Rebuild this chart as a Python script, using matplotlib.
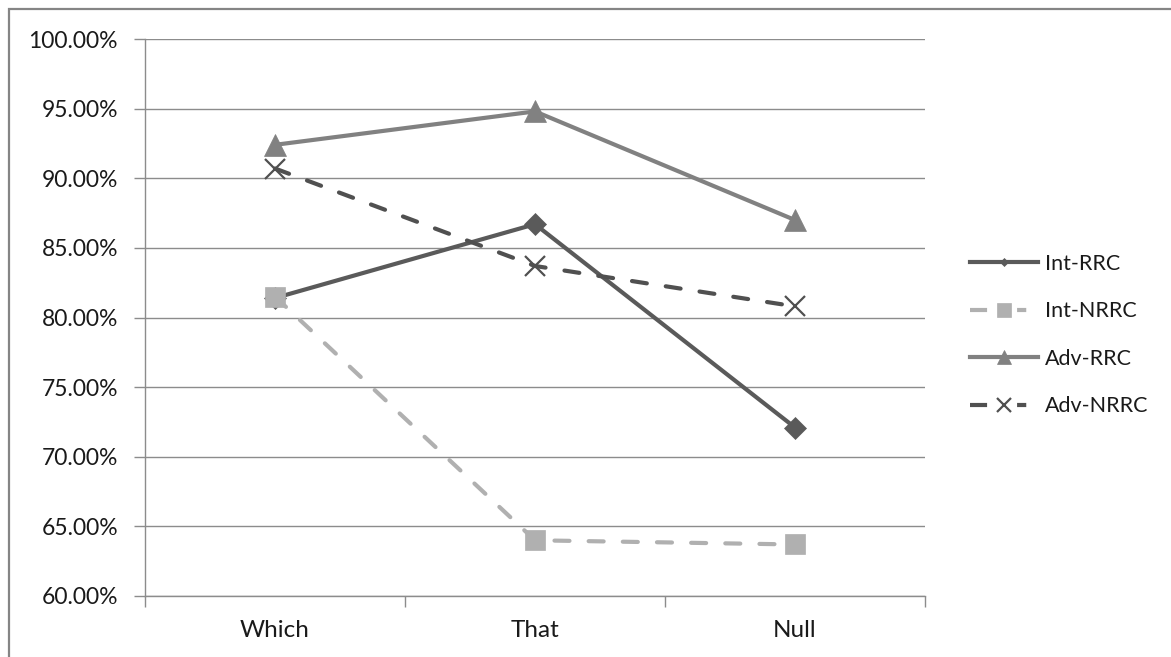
import matplotlib.pyplot as plt
from matplotlib.lines import Line2D
from matplotlib.patches import Rectangle
from matplotlib.ticker import FixedLocator, PercentFormatter

plt.rcParams['font.family'] = ['Lato', 'DejaVu Sans']

categories = ['Which', 'That', 'Null']
series_names = ['Int-RRC', 'Int-NRRC', 'Adv-RRC', 'Adv-NRRC']
int_rrc = [81.4, 86.7, 72.1]
int_nrrc = [81.5, 64.0, 63.7]
adv_rrc = [92.4, 94.8, 87.0]
adv_nrrc = [90.7, 83.7, 80.8]
y_ticks = [60, 65, 70, 75, 80, 85, 90, 95, 100]

# line style per series: colour, dashed?, marker, plot size, legend size
styles = [
    ('#5a5a5a', False, 'D', 11, 4.5),
    ('#b0b0b0', True, 's', 15, 10),
    ('#818181', False, '^', 16, 9.5),
    ('#505050', True, 'x', 14, 9.5),
]
values = [int_rrc, int_nrrc, adv_rrc, adv_nrrc]

fig = plt.figure(figsize=(11.71, 6.57), dpi=100)
ax = fig.add_axes([145 / 1171, 1 - 596 / 657, 780 / 1171, 557 / 657])

x = list(range(len(categories)))
handles = []
for name, vals, (color, dashed, marker, ms, lms) in zip(series_names, values, styles):
    kw = dict(color=color, lw=3, marker=marker, markersize=ms,
              markerfacecolor=color, markeredgecolor=color,
              markeredgewidth=1.6 if marker == 'x' else 0.5)
    if dashed:
        kw.update(dashes=(3.6, 4.6), dash_capstyle='round')
    ax.plot(x, vals, **kw)
    kw['markersize'] = lms
    if dashed:
        # short dash either side of the legend marker
        kw['dashes'] = (4.1, 7.2, 2.2, 6)
        kw['dash_capstyle'] = 'butt'
    handles.append(Line2D([], [], label=name, **kw))

grid_c = '#8c8c8c'
text_c = '#1a1a1a'
ax.set_xlim(-0.5, len(categories) - 0.5)
ax.set_ylim(60, 100)
ax.set_yticks(y_ticks)
ax.yaxis.set_major_formatter(PercentFormatter(decimals=2))
ax.set_xticks(x)
ax.set_xticklabels(categories)
ax.xaxis.set_minor_locator(FixedLocator([i - 0.5 for i in range(len(categories) + 1)]))
ax.tick_params(axis='x', which='major', length=0, pad=17.5, labelsize=17.5, labelcolor=text_c)
ax.tick_params(axis='x', which='minor', length=8, width=1, color=grid_c, direction='out')
ax.tick_params(axis='y', length=8, width=1, color=grid_c, pad=11.5, labelsize=16.5, labelcolor=text_c)
ax.grid(axis='y', color=grid_c, lw=1)
ax.set_axisbelow(True)
for side in ('top', 'right'):
    ax.spines[side].set_visible(False)
for side in ('left', 'bottom'):
    ax.spines[side].set_color(grid_c)
    ax.spines[side].set_linewidth(1)

fig.legend(handles=handles, loc='center left', bbox_to_anchor=(951 / 1171, 1 - 335 / 657),
           frameon=False, fontsize=15.5, handlelength=3.15, handletextpad=0.3,
           labelspacing=1.28, labelcolor=text_c)

# chart border
fig.add_artist(Rectangle((9 / 1171, -0.1), 1.2, 1.1 - 9 / 657, transform=fig.transFigure,
                         fill=False, edgecolor='#858585', lw=1.6))

fig.savefig('out.png', dpi=100)
